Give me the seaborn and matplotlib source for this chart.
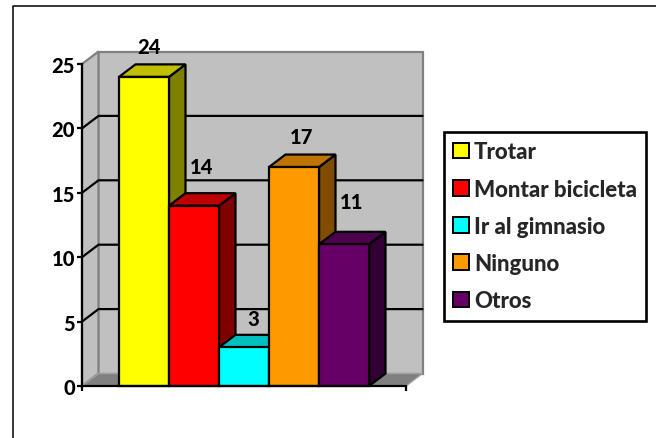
import matplotlib
matplotlib.use("Agg")
import matplotlib.pyplot as plt
from matplotlib.colors import to_rgb
from matplotlib.lines import Line2D
from matplotlib.patches import Polygon
from matplotlib.transforms import IdentityTransform
import pandas as pd
import seaborn as sns

# DATA
categories = ["Trotar", "Montar bicicleta", "Ir al gimnasio", "Ninguno", "Otros"]
values = [24, 14, 3, 17, 11]
y_ticks = [0, 5, 10, 15, 20, 25]

# STYLE
bar_colors = ["#FFFF00", "#FF0000", "#00FFFF", "#FF9900", "#660066"]
WALL = "#C0C0C0"
FLOOR = "#808080"
W, H = 656, 439
DEPTH = (16.5, 12.5)
label_lift = [30, 39, 29, 31, 43]
label_shift = [5, 8, 9, 8, 8]
LW = 1.6
FONT = 14.5

sns.set_style("white")
plt.rcParams["font.family"] = ["Lato", "DejaVu Sans"]
plt.rcParams["font.weight"] = "black"


def shade(color, k):
    return tuple(c * k for c in to_rgb(color))


fig = plt.figure(figsize=(W / 100, H / 100), dpi=100)
left, right, top, bottom = 82, 406, 65, 387
ax = fig.add_axes([left / W, 1 - bottom / H, (right - left) / W, (bottom - top) / H])

df = pd.DataFrame({"actividad": categories, "valor": values})
sns.barplot(data=df, x="actividad", y="valor", hue="actividad", palette=bar_colors,
            dodge=False, width=1, saturation=1, edgecolor="black", linewidth=LW,
            legend=True, ax=ax)
ax.patch.set_visible(False)

# one bar is 50 px wide, the plot is 324 px wide
margin = (324 / 50 - 5) / 2
ax.set_xlim(-0.5 - margin, 4.5 + margin)
ax.set_ylim(0, 25)
ax.set_yticks(y_ticks)
ax.set_xticks([-0.5 - margin, 4.5 + margin])
ax.set_xticklabels([])
ax.set_xlabel("")
ax.set_ylabel("")
ax.tick_params(axis="both", length=3.5, width=LW, color="black", left=True, bottom=True,
               labelsize=FONT, pad=1.5, labelcolor="black")
sns.despine(ax=ax)
for side in ["left", "bottom"]:
    ax.spines[side].set_linewidth(LW)
    ax.spines[side].set_color("black")
    ax.spines[side].set_zorder(30)


def px(x, y, back=False):
    p = ax.transData.transform((x, y))
    if back:
        return (p[0] + DEPTH[0], p[1] + DEPTH[1])
    return (p[0], p[1])


def poly(points, face, edge="black", z=1.0, lw=LW):
    ax.add_patch(Polygon(points, closed=True, facecolor=face, edgecolor=edge, linewidth=lw,
                         transform=IdentityTransform(), zorder=z, clip_on=False,
                         joinstyle="miter"))


x0, x1 = ax.get_xlim()
# back wall, left wall and floor
poly([px(x0, 0, True), px(x1, 0, True), px(x1, 25, True), px(x0, 25, True)], WALL, FLOOR, 0.5)
poly([px(x0, 0), px(x0, 0, True), px(x0, 25, True), px(x0, 25)], WALL, FLOOR, 0.6)
poly([px(x0, 0), px(x1, 0), px(x1, 0, True), px(x0, 0, True)], FLOOR, "#A0A0A0", 0.7, 1.0)

# gridlines along the two walls
for t in y_ticks[1:-1]:
    a, b, c = px(x0, t), px(x0, t, True), px(x1, t, True)
    ax.add_line(Line2D([a[0], b[0], c[0]], [a[1], b[1], c[1]], color="black", lw=LW,
                       transform=IdentityTransform(), zorder=0.8, clip_on=False))

# 3D faces of each bar, left to right so later bars cover earlier ones
for i, (bar, v) in enumerate(zip(ax.patches[:len(values)], values)):
    a, b = bar.get_x(), bar.get_x() + bar.get_width()
    z = 2 + i * 2
    poly([px(b, 0), px(b, 0, True), px(b, v, True), px(b, v)], shade(bar_colors[i], 0.5), z=z)
    poly([px(a, v), px(b, v), px(b, v, True), px(a, v, True)], shade(bar_colors[i], 0.75), z=z)
    bar.set_zorder(z + 1)
    bar.set_clip_on(False)
    ax.annotate(str(v), (i, v), xytext=(label_shift[i] * 0.72, label_lift[i] * 0.72),
                textcoords="offset points", ha="center", va="center", fontsize=FONT,
                color="black", zorder=40)

leg = ax.legend(loc="upper left", bbox_to_anchor=(444 / W, 1 - 133 / H),
                bbox_transform=fig.transFigure, fontsize=16, frameon=True, fancybox=False,
                edgecolor="black", framealpha=1, borderaxespad=0, borderpad=0.42,
                handlelength=0.7, handleheight=0.7, handletextpad=0.22, labelspacing=0.73,
                title=None)
leg.get_frame().set_linewidth(LW * 1.2)
leg.set_zorder(50)
for handle in leg.get_patches():
    handle.set_edgecolor("black")
    handle.set_linewidth(1.4)

# outer chart frame, open on the right and at the bottom
fig.add_artist(Line2D([12.5 / W, 12.5 / W, 1], [0, 1 - 7 / H, 1 - 7 / H], color="black", lw=1.1))

fig.savefig("out.png", dpi=100, facecolor="white")
